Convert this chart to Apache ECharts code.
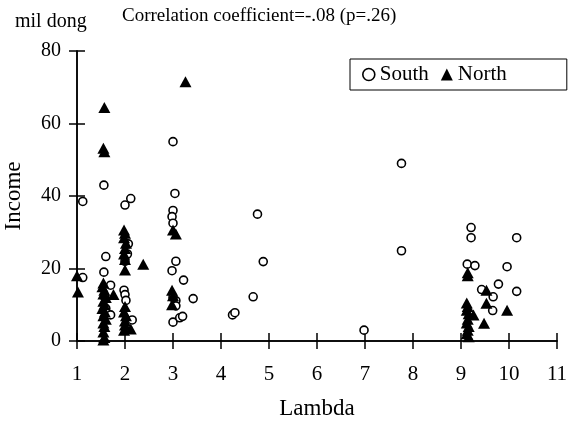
<!DOCTYPE html>
<html>
<head>
<meta charset="utf-8">
<script src="https://cdn.jsdelivr.net/npm/echarts@6/dist/echarts.min.js"></script>
<style>
  html, body { margin: 0; padding: 0; background: #fff; }
  #chart { width: 573px; height: 442px; }
</style>
</head>
<body>
<div id="chart"></div>
<script>
// Income (mil dong) against Lambda, by region
const xTicks = [1, 2, 3, 4, 5, 6, 7, 8, 9, 10, 11];
const yTicks = [0, 20, 40, 60, 80];

const southLambda = [
  1.12, 1.12,
  1.56, 1.60, 1.56, 1.70, 1.70, 1.58, 1.60,
  2.00, 2.12, 2.07, 2.00, 2.05, 1.98, 2.00, 2.02, 2.15,
  3.00, 3.04, 3.00, 2.98, 3.00, 3.06, 2.98, 3.22, 3.42, 3.06, 3.06, 3.00, 3.14, 3.20, 3.00,
  4.24, 4.29, 4.67, 4.76, 4.88, 6.98, 7.76, 7.76,
  9.21, 9.21, 10.16, 9.13, 9.29, 9.96, 9.78, 9.43, 9.67, 10.16, 9.66
];
const southIncome = [
  38.5, 17.5,
  43.0, 23.3, 19.0, 15.4, 7.2, 12.0, 9.0,
  37.5, 39.3, 26.8, 22.0, 24.0, 14.0, 12.8, 11.2, 5.8,
  55.0, 40.7, 36.0, 34.3, 32.5, 22.0, 19.4, 16.8, 11.7, 11.1, 9.7, 5.2, 6.4, 6.8, 12.0,
  7.2, 7.8, 12.2, 35.0, 21.9, 3.0, 49.0, 24.9,
  31.3, 28.5, 28.5, 21.2, 20.8, 20.5, 15.7, 14.2, 12.2, 13.7, 8.4
];

const northLambda = [
  1.00, 1.02,
  1.57, 1.55, 1.57,
  1.55, 1.53, 1.57, 1.55, 1.60, 1.55, 1.57, 1.53, 1.58, 1.55, 1.60, 1.55, 1.57, 1.55, 1.57, 1.55, 1.76,
  1.98, 2.00, 1.98, 2.02, 2.00, 1.98, 2.00, 2.00, 2.38,
  2.00, 1.98, 2.02, 2.00, 2.00, 1.98, 2.12,
  3.00, 3.06, 2.98, 3.00, 2.98,
  3.26,
  9.14, 9.14, 9.53, 9.53, 9.96, 9.48, 9.12, 9.14, 9.12, 9.16, 9.26, 9.14, 9.12, 9.16, 9.14, 9.12, 9.16
];
const northIncome = [
  18.0, 13.5,
  64.4, 53.2, 52.2,
  16.0, 15.0, 14.0, 13.0, 12.0, 11.0, 10.0, 9.0, 8.0, 7.0, 6.0, 5.0, 4.0, 2.5, 1.0, 0.3, 12.8,
  30.6, 29.7, 28.5, 27.0, 25.5, 24.0, 22.5, 19.6, 21.2,
  9.5, 8.0, 7.0, 5.5, 4.4, 3.0, 3.3,
  30.6, 29.5, 14.0, 12.5, 10.0,
  71.5,
  18.8, 18.0, 14.0, 10.4, 8.5, 4.9, 10.5, 9.5, 8.5, 7.5, 7.2, 6.0, 5.0, 4.0, 3.0, 2.0, 1.2
];

const pairs = (xs, ys) => xs.map((x, i) => [x, ys[i]]);

const FONT = '"Liberation Serif", "Times New Roman", serif';
const axisLine = { show: true, onZero: false, lineStyle: { color: '#000', width: 1.5 } };
const tickStyle = { color: '#000', width: 1.5 };

const chart = echarts.init(document.getElementById('chart'), null, { renderer: 'canvas' });

const xBase = {
  type: 'value', min: xTicks[0], max: xTicks[xTicks.length - 1], interval: 1,
  axisLine: axisLine, splitLine: { show: false }
};
const yBase = {
  type: 'value', min: yTicks[0], max: yTicks[yTicks.length - 1], interval: 20,
  axisLine: axisLine, splitLine: { show: false }
};

chart.setOption({
  animation: false,
  backgroundColor: '#fff',
  textStyle: { fontFamily: FONT, color: '#000' },
  title: [
    { text: 'mil dong', left: 10, top: 7,
      textStyle: { fontFamily: FONT, fontSize: 20, fontWeight: 'normal', color: '#000' } },
    { text: 'Correlation coefficient=-.08 (p=.26)', left: 117, top: 2,
      textStyle: { fontFamily: FONT, fontSize: 19, fontWeight: 'normal', color: '#000' } }
  ],
  legend: {
    left: 350, top: 59,
    padding: [5, 60, 5, 12],
    itemGap: 12,
    itemWidth: 12, itemHeight: 12,
    borderColor: '#000', borderWidth: 1,
    textStyle: { fontFamily: FONT, fontSize: 21, color: '#000' },
    data: [
      { name: 'South', icon: 'circle', itemStyle: { color: '#fff', borderColor: '#000', borderWidth: 1.6 } },
      { name: 'North', icon: 'triangle', itemStyle: { color: '#000' } }
    ]
  },
  grid: {
    left: 77, right: 16, top: 51, bottom: 101,
    containLabel: false, outerBoundsMode: 'none'
  },
  xAxis: [
    Object.assign({}, xBase, {
      name: 'Lambda', nameLocation: 'middle', nameGap: 56,
      nameTextStyle: { fontFamily: FONT, fontSize: 23, color: '#000' },
      axisTick: { show: true, length: 8, lineStyle: tickStyle },
      axisLabel: { margin: 23, fontFamily: FONT, fontSize: 21, color: '#000' }
    }),
    Object.assign({}, xBase, {
      position: 'bottom',
      axisTick: { show: true, inside: true, length: 8, lineStyle: tickStyle },
      axisLabel: { show: false }
    })
  ],
  yAxis: [
    Object.assign({}, yBase, {
      name: 'Income', nameLocation: 'middle', nameGap: 52, nameRotate: 90,
      nameTextStyle: { fontFamily: FONT, fontSize: 23, color: '#000' },
      axisTick: { show: true, length: 8, lineStyle: tickStyle },
      axisLabel: { margin: 16, fontFamily: FONT, fontSize: 20, color: '#000' }
    }),
    Object.assign({}, yBase, {
      position: 'left',
      axisTick: { show: true, inside: true, length: 8, lineStyle: tickStyle },
      axisLabel: { show: false }
    })
  ],
  series: [
    {
      name: 'South', type: 'scatter', xAxisIndex: 0, yAxisIndex: 0,
      symbol: 'circle', symbolSize: 8,
      itemStyle: { color: '#fff', borderColor: '#000', borderWidth: 1.6, opacity: 1 },
      data: pairs(southLambda, southIncome), z: 3
    },
    {
      name: 'North', type: 'scatter', xAxisIndex: 0, yAxisIndex: 0,
      symbol: 'triangle', symbolSize: [12, 11],
      itemStyle: { color: '#000', opacity: 1 },
      data: pairs(northLambda, northIncome), z: 4
    }
  ]
});
</script>
</body>
</html>
